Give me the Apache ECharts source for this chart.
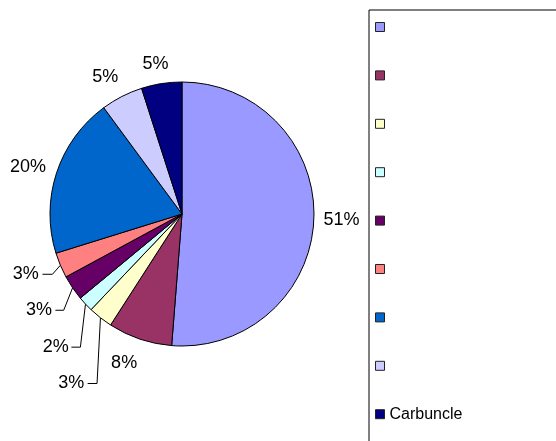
<!DOCTYPE html>
<html>
<head>
<meta charset="utf-8">
<style>
  html, body { margin: 0; padding: 0; background: #fff; }
  #chart { width: 556px; height: 441px; }
</style>
<script src="https://cdn.jsdelivr.net/npm/echarts@6/dist/echarts.min.js"></script>
</head>
<body>
<div id="chart"></div>
<script>
// Slice names: only the last legend entry carries text, the others stay blank
// (each blank key is distinct so the legend keeps one row per slice).
const categories = [' ', '  ', '   ', '    ', '     ', '      ', '       ', '        ', 'Carbuncle'];
// Share of each slice, percent, clockwise from twelve o'clock.
const shares = [51.25, 7.85, 3.0, 1.9, 3.1, 3.1, 19.7, 5.15, 4.95];
const sliceColors = ['#9999FF', '#993366', '#FFFFCC', '#CCFFFF', '#660066', '#FF8080', '#0066CC', '#CCCCFF', '#000080'];

// Where each percentage label sits relative to the slice's outer mid point.
// Entries with an elbow get a leader line: down to the elbow, then a short horizontal tail.
const labelPlacement = [
  { dx: 9.6, dy: 0.8, align: 'left' },
  { dx: -15.7, dy: 24.1, align: 'center' },
  { elbow: [-3.4, 65.7], tail: 9.4, gap: 3.3 },
  { elbow: [-5.1, 43.1], tail: 9.0, gap: 2.7 },
  { elbow: [-8.9, 22.4], tail: 8.3, gap: 3.3 },
  { elbow: [-7.9, 9.0], tail: 10.0, gap: 3.7 },
  { dx: -28.6, dy: -5.7, align: 'center' },
  { dx: -16.7, dy: -19.3, align: 'center' },
  { dx: -6.0, dy: -19.3, align: 'center' }
];

const FONT = '"Liberation Sans", Arial, Helvetica, sans-serif';

const pieData = categories.map(function (name, i) {
  const hasLeader = !!labelPlacement[i].elbow;
  return {
    name: name,
    value: shares[i],
    itemStyle: { color: sliceColors[i] },
    labelLine: { lineStyle: { opacity: hasLeader ? 1 : 0 } }
  };
});

const chart = echarts.init(document.getElementById('chart'), null, { renderer: 'canvas' });

chart.setOption({
  animation: false,
  backgroundColor: '#fff',
  legend: {
    orient: 'vertical',
    left: 369,
    top: 10,
    height: 700,
    padding: [9, 220, 40, 6],
    borderColor: '#000',
    borderWidth: 1,
    icon: 'rect',
    itemWidth: 9,
    itemHeight: 9,
    itemGap: 32.4,
    selectedMode: false,
    data: categories,
    itemStyle: { borderColor: '#222', borderWidth: 1 },
    textStyle: { fontFamily: FONT, fontSize: 16, color: '#000' }
  },
  series: [{
    type: 'pie',
    center: [182, 214],
    radius: 132,
    startAngle: 90,
    clockwise: true,
    percentPrecision: 0,
    avoidLabelOverlap: false,
    silent: true,
    itemStyle: { borderColor: '#000', borderWidth: 1 },
    label: {
      show: true,
      position: 'outside',
      formatter: '{d}%',
      fontFamily: FONT,
      fontSize: 18,
      color: '#000'
    },
    labelLine: {
      show: true,
      length: 1,
      length2: 1,
      smooth: false,
      lineStyle: { color: '#000', width: 1 }
    },
    labelLayout: function (p) {
      const cfg = labelPlacement[p.dataIndex];
      const a = p.labelLinePoints[0];
      if (cfg.elbow) {
        const ex = a[0] + cfg.elbow[0];
        const ey = a[1] + cfg.elbow[1];
        const tx = ex - cfg.tail;
        return {
          x: tx - cfg.gap,
          y: ey,
          align: 'right',
          verticalAlign: 'middle',
          labelLinePoints: [[a[0], a[1]], [ex, ey], [tx, ey]]
        };
      }
      return {
        x: a[0] + cfg.dx,
        y: a[1] + cfg.dy,
        align: cfg.align,
        verticalAlign: 'middle',
        labelLinePoints: [[a[0], a[1]], [a[0], a[1]], [a[0], a[1]]]
      };
    },
    data: pieData
  }]
});
</script>
</body>
</html>
